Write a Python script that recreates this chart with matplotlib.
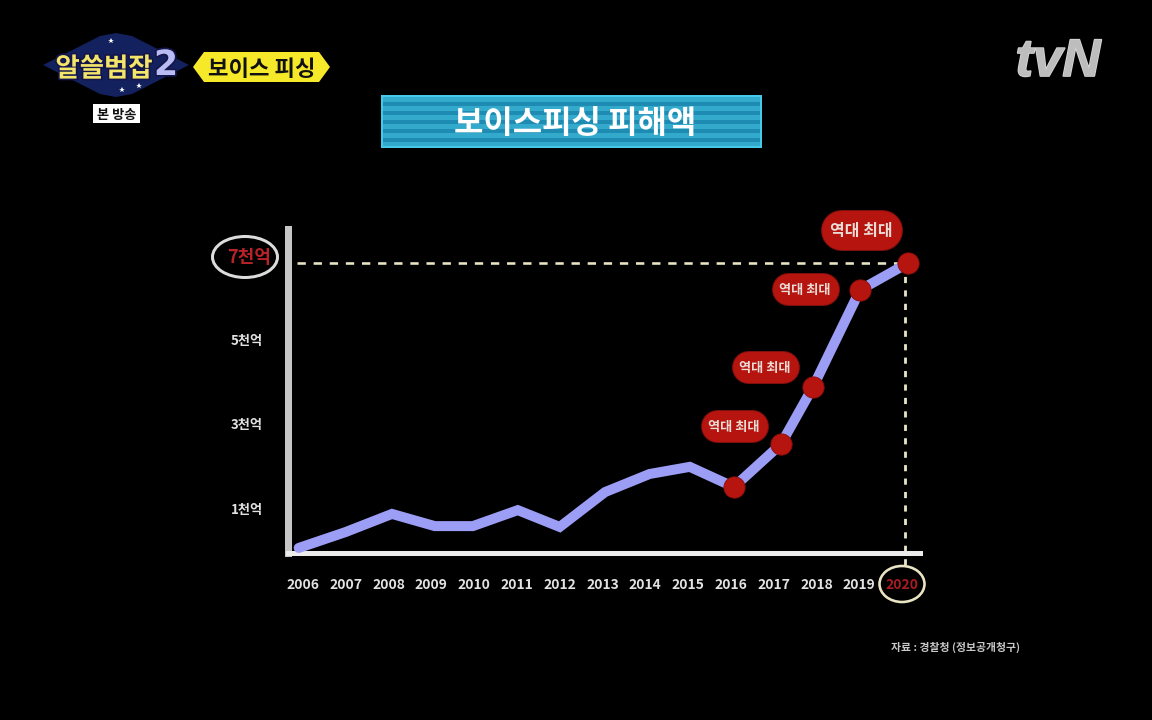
#!/usr/bin/env python3
"""Voice phishing damage chart on a black TV-graphic background."""

import matplotlib
matplotlib.use("Agg")
import matplotlib.pyplot as plt
import matplotlib.patheffects as pe
from matplotlib.patches import Ellipse, Polygon, Rectangle

plt.rcParams['font.family'] = ['Noto Sans CJK KR', 'DejaVu Sans']

# Data (unit: 천억 won)
YEARS = list(range(2006, 2021))
POINT_YEARS = [2005.9, 2007.0, 2008.08, 2009.08, 2009.97, 2011.02, 2012.0, 2013.06,
               2014.1, 2015.04, 2016.07, 2017.17, 2017.92, 2019.02, 2020.14]
DAMAGE = [0.05, 0.43, 0.86, 0.57, 0.57, 0.95, 0.55, 1.38,
          1.81, 1.98, 1.50, 2.52, 3.88, 6.19, 6.83]
RECORD_FROM = 10  # index of 2016, red dots from here on
Y_TICKS = [1, 3, 5, 7]
Y_LABELS = ['1천억', '3천억', '5천억', '7천억']

TITLE = '보이스피싱 피해액'
RECORD_LABEL = '역대 최대'
SOURCE = '자료 : 경찰청 (정보공개청구)'

W, H = 1152, 720
PX = 0.72  # one pixel in points at dpi 100
RED = '#b5140f'
CREAM = '#e9e5c4'

fig = plt.figure(figsize=(W / 100, H / 100), dpi=100, facecolor='black')

# chart axes, spines sit where the thick white axis lines are
ax = fig.add_axes([288 / W, 1 - 553 / H, (920 - 288) / W, (553 - 229) / H])
ax.set_facecolor('black')
ax.set_xlim(2005.65, 2020.42)
ax.set_ylim(-0.07, 7.64)
for side in ('top', 'right'):
    ax.spines[side].set_visible(False)
ax.spines['left'].set_color('#c6c6c6')
ax.spines['left'].set_linewidth(7 * PX)
ax.spines['bottom'].set_color('#ececec')
ax.spines['bottom'].set_linewidth(5 * PX)

ax.set_xticks(YEARS)
ax.set_xticklabels([str(y) for y in YEARS], fontsize=10, color='#e2e2e2', fontweight='bold')
ax.set_yticks(Y_TICKS)
ax.set_yticklabels(Y_LABELS, fontsize=9.5, color='#e2e2e2', fontweight='bold')
ax.tick_params(axis='x', length=0, pad=18)
ax.tick_params(axis='y', length=0, pad=18)

# highlighted ticks
peak_tick = ax.yaxis.get_major_ticks()[-1]
peak_tick.set_pad(12.5)
peak_tick.label1.set_fontsize(13)
peak_tick.label1.set_color('#b82228')
ax.get_xticklabels()[-1].set_color('#a81c22')

# guide lines to the 2020 peak
peak_x, peak_y = POINT_YEARS[-1], DAMAGE[-1]
ax.plot([2005.85, peak_x], [peak_y, peak_y], color=CREAM, lw=2.6 * PX,
        dashes=(3.2, 3.0), zorder=2)
ax.plot([peak_x - 0.07, peak_x - 0.07], [peak_y, -0.52], color=CREAM, lw=2.8 * PX,
        dashes=(2.2, 2.6), clip_on=False, zorder=2)

ax.plot(POINT_YEARS, DAMAGE, color='#9c9ef6', lw=10 * PX, solid_capstyle='round',
        solid_joinstyle='miter', zorder=3, clip_on=False)
ax.scatter(POINT_YEARS[RECORD_FROM:], DAMAGE[RECORD_FROM:], s=235, color=RED,
           edgecolors='#8a0f0c', linewidths=0.6, zorder=4, clip_on=False)

# overlay in pixel coordinates for the broadcast graphics
ov = fig.add_axes([0, 0, 1, 1], zorder=5)
ov.set_xlim(0, W)
ov.set_ylim(H, 0)
ov.axis('off')
ov.patch.set_alpha(0)

# pills, a fat round-capped line gives true semicircle ends
PILLS = [(820, 209, 82, 41, 11.5), (771, 272, 68, 33, 9.5),
         (731, 350, 68, 33, 9.5), (700, 409, 68, 33, 9.5)]
for x, y, w, h, size in PILLS:
    cy = y + h / 2
    ov.plot([x + h / 2, x + w - h / 2], [cy, cy], color=RED, lw=(h - 2) * PX,
            solid_capstyle='round',
            path_effects=[pe.withStroke(linewidth=h * PX, foreground='#7d0f0c')])
    ov.text(x + w / 2, cy + 1.5, RECORD_LABEL, color='#ecdcd6', fontsize=size,
            fontweight='bold', ha='center', va='center')

# ellipses around 7천억 and 2020
ov.add_patch(Ellipse((245, 257), 65, 41, fc='none', ec='#dcdcdc', lw=3 * PX))
ov.add_patch(Ellipse((902, 584), 45, 36, fc='none', ec=CREAM, lw=2.6 * PX))

ov.text(891, 647, SOURCE, color='#c8c8c8', fontsize=7.8, fontweight='bold',
        ha='left', va='center')

# title bar with stripes
ov.add_patch(Rectangle((381, 95), 381, 53, fc='#1e8bb3', ec='none'))
for y in range(97, 147, 9):
    ov.add_patch(Rectangle((383, y), 377, 4.5, fc='#33a9cc', ec='none'))
ov.add_patch(Rectangle((382, 96), 379, 51, fc='none', ec='#45c8ea', lw=2 * PX))
ov.text(575, 124, TITLE, color='white', fontsize=23, fontweight='bold',
        ha='center', va='center')

# programme logo
ov.add_patch(Polygon([(43, 65), (100, 36), (116, 33), (132, 36), (189, 65),
                      (132, 94), (116, 97), (100, 94)], fc='#14215f', ec='none'))
for sx, sy in [(111, 41), (122, 90), (139, 86)]:
    ov.plot(sx, sy, marker='*', ms=4, color='white', mew=0)
outline = [pe.withStroke(linewidth=2.5, foreground='#14154a')]
ov.text(104, 69, '알쓸범잡', color='#f3e56a', fontsize=19, fontweight='bold',
        ha='center', va='center', path_effects=outline)
ov.text(166, 65, '2', color='#b9bbf3', fontsize=25, family='DejaVu Sans', fontweight='bold',
        ha='center', va='center', path_effects=outline)

# topic banner
ov.add_patch(Polygon([(193, 67), (204, 52), (319, 52), (330, 67), (319, 82), (204, 82)],
                     fc='#f6e92a', ec='none'))
ov.text(262, 69, '보이스 피싱', color='#111111', fontsize=16, fontweight='bold',
        ha='center', va='center')

# "on air" tag
ov.add_patch(Rectangle((93, 104), 47, 19, fc='white', ec='none'))
ov.text(116.5, 115, '본 방송', color='#111111', fontsize=9.5, fontweight='bold',
        ha='center', va='center')

# channel logo
ov.text(1058, 62, 'tvN', color='#bdbdbd', fontsize=38, family='Liberation Sans',
        fontweight='bold', style='italic', ha='center', va='center',
        path_effects=[pe.withStroke(linewidth=1.2, foreground='#d8d8d8')])

fig.savefig('out.png', dpi=100, facecolor='black')
